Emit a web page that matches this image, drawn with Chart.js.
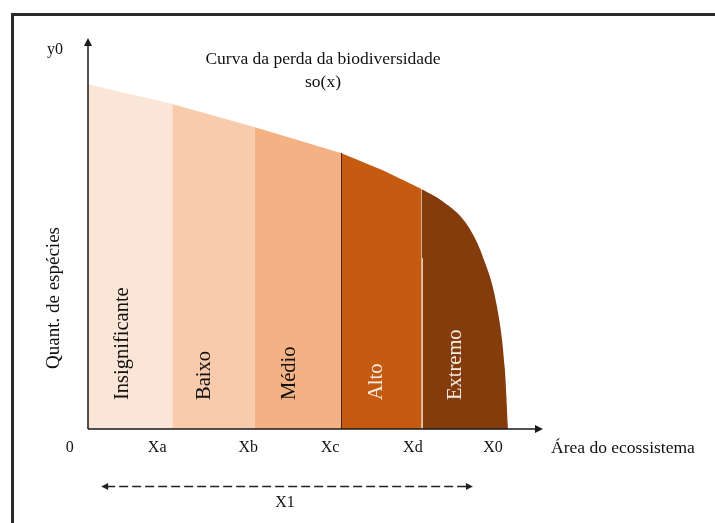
<!doctype html>
<html lang="pt">
<head>
<meta charset="utf-8" />
<style>
  html, body { margin: 0; padding: 0; background: #ffffff; }
  #wrap { width: 715px; height: 523px; position: relative; }
</style>
<script src="https://cdn.jsdelivr.net/npm/chart.js@4.4.1/dist/chart.umd.min.js"></script>
</head>
<body>
<div id="wrap"><canvas id="chart" width="715" height="523"></canvas></div>
<script>
// zones of the biodiversity loss curve (x = area, y = species count, 0..100 units)
const zoneNames = ['Insignificante', 'Baixo', 'Médio', 'Alto', 'Extremo'];
const zoneColors = ['#FBE5D6', '#F8CBAD', '#F4B183', '#C55A11', '#843C0C'];
const zoneTextColors = ['#111111', '#111111', '#111111', '#F6EEE6', '#F6EEE6'];
const zoneX = [
  [0, 18.5],
  [18.5, 36.7],
  [36.7, 55.6],
  [55.6, 64.9, 73.3],
  [73.3, 78.0, 83.1, 86.8, 89.9, 91.6, 92.3],
];
const zoneY = [
  [88.2, 83.1],
  [83.1, 77.2],
  [77.2, 70.6],
  [70.6, 66.1, 61.4],
  [61.4, 58.2, 52.6, 44.0, 31.2, 15.6, 0],
];
// where the rotated zone names sit (x in data units)
const zoneLabelX = [7.7, 25.7, 44.4, 63.5, 80.7];

const tickLabels = ['0', 'Xa', 'Xb', 'Xc', 'Xd', 'X0'];
const tickValues = [-4.0, 15.2, 35.2, 53.2, 71.4, 89.0];

const x1Range = [2.9, 84.6];

const SERIF = '"Liberation Serif", "Times New Roman", serif';

const datasets = zoneNames.map((name, i) => ({
  label: name,
  data: zoneX[i].map((x, j) => ({ x, y: zoneY[i][j] })),
  backgroundColor: zoneColors[i],
  borderWidth: 0,
  pointRadius: 0,
  fill: 'origin',
  tension: 0,
  cubicInterpolationMode: i === 4 ? 'monotone' : 'default',
}));

function arrowHead(ctx, x, y, dir, size) {
  ctx.beginPath();
  if (dir === 'up') {
    ctx.moveTo(x, y); ctx.lineTo(x - size * 0.5, y + size); ctx.lineTo(x + size * 0.5, y + size);
  } else if (dir === 'right') {
    ctx.moveTo(x, y); ctx.lineTo(x - size, y - size * 0.5); ctx.lineTo(x - size, y + size * 0.5);
  } else {
    ctx.moveTo(x, y); ctx.lineTo(x + size, y - size * 0.5); ctx.lineTo(x + size, y + size * 0.5);
  }
  ctx.closePath();
  ctx.fill();
}

const decorations = {
  id: 'decorations',
  afterDraw(chart) {
    const { ctx } = chart;
    const xs = chart.scales.x, ys = chart.scales.y;
    const X = v => xs.getPixelForValue(v);
    const Y = v => ys.getPixelForValue(v);
    ctx.save();

    // picture frame (top and left only)
    ctx.strokeStyle = '#2b2b2b';
    ctx.lineWidth = 3;
    ctx.beginPath();
    ctx.moveTo(12.5, 523); ctx.lineTo(12.5, 14.5); ctx.lineTo(715, 14.5);
    ctx.stroke();

    // thin separators between zones
    ctx.lineWidth = 1;
    ctx.strokeStyle = '#4a2208';
    ctx.beginPath();
    ctx.moveTo(Math.round(X(zoneX[3][0])) + 0.5, Y(zoneY[3][0]));
    ctx.lineTo(Math.round(X(zoneX[3][0])) + 0.5, Y(0));
    ctx.stroke();
    ctx.strokeStyle = '#E6C7A6';
    ctx.beginPath();
    ctx.moveTo(Math.round(X(zoneX[4][0])) + 0.5, Y(43.7));
    ctx.lineTo(Math.round(X(zoneX[4][0])) + 0.5, Y(0));
    ctx.stroke();

    // axes with arrows
    ctx.strokeStyle = '#1a1a1a';
    ctx.fillStyle = '#1a1a1a';
    ctx.lineWidth = 1.5;
    ctx.beginPath();
    ctx.moveTo(X(0), Y(0)); ctx.lineTo(X(0), Y(100) + 6);
    ctx.moveTo(X(0), Y(0)); ctx.lineTo(X(100) - 6, Y(0));
    ctx.stroke();
    arrowHead(ctx, X(0), Y(100), 'up', 8);
    arrowHead(ctx, X(100), Y(0), 'right', 8);

    // dashed X1 arrow
    const yArrow = 486.5;
    ctx.setLineDash([9, 4]);
    ctx.lineWidth = 1.5;
    ctx.strokeStyle = '#222';
    ctx.fillStyle = '#222';
    ctx.beginPath();
    ctx.moveTo(X(x1Range[0]) + 5, yArrow); ctx.lineTo(X(x1Range[1]) - 5, yArrow);
    ctx.stroke();
    ctx.setLineDash([]);
    arrowHead(ctx, X(x1Range[0]), yArrow, 'left', 7);
    arrowHead(ctx, X(x1Range[1]), yArrow, 'right', 7);

    // texts
    ctx.fillStyle = '#111';
    ctx.textAlign = 'center';
    ctx.textBaseline = 'middle';
    ctx.font = '17.5px ' + SERIF;
    ctx.fillText('Curva da perda da biodiversidade', 323, 59);
    ctx.fillText('so(x)', 323, 82);
    ctx.font = '16px ' + SERIF;
    ctx.fillText('y0', 55, 50);
    tickLabels.forEach((t, i) => ctx.fillText(t, X(tickValues[i]), 448));
    ctx.fillText('X1', X((x1Range[0] + x1Range[1]) / 2) - 2, 503);
    ctx.textAlign = 'left';
    ctx.font = '17.5px ' + SERIF;
    ctx.fillText('Área do ecossistema', 551, 448);

    // rotated axis title
    ctx.save();
    ctx.translate(54, 298);
    ctx.rotate(-Math.PI / 2);
    ctx.textAlign = 'center';
    ctx.font = '19px ' + SERIF;
    ctx.fillText('Quant. de espécies', 0, 0);
    ctx.restore();

    // zone names
    zoneNames.forEach((name, i) => {
      ctx.save();
      ctx.translate(X(zoneLabelX[i]), 400);
      ctx.rotate(-Math.PI / 2);
      ctx.textAlign = 'left';
      ctx.textBaseline = 'middle';
      ctx.font = '20.5px ' + SERIF;
      ctx.fillStyle = zoneTextColors[i];
      ctx.fillText(name, 0, 0);
      ctx.restore();
    });

    ctx.restore();
  },
};

new Chart(document.getElementById('chart'), {
  type: 'line',
  data: { datasets },
  options: {
    responsive: false,
    animation: false,
    devicePixelRatio: 1,
    layout: { padding: { left: 88, right: 172, top: 38, bottom: 94 } },
    plugins: { legend: { display: false }, tooltip: { enabled: false }, title: { display: false } },
    scales: {
      x: { type: 'linear', min: 0, max: 100, display: false },
      y: { type: 'linear', min: 0, max: 100, display: false },
    },
  },
  plugins: [decorations],
});
</script>
</body>
</html>
